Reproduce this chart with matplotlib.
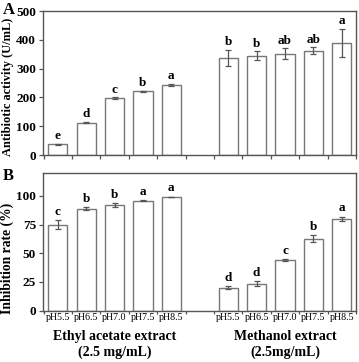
import matplotlib
matplotlib.use('Agg')
import matplotlib.pyplot as plt
import numpy as np

plt.rcParams['font.family'] = ['Liberation Serif', 'DejaVu Serif']

# Dados
ph_labels = ['pH5.5', 'pH6.5', 'pH7.0', 'pH7.5', 'pH8.5']
posicoes = [0, 1, 2, 3, 4, 6, 7, 8, 9, 10]

atividade = [37, 112, 198, 221, 244, 337, 345, 351, 362, 390]
atividade_err = [2, 2, 2, 2, 4, 27, 15, 19, 12, 48]
letras_a = ['e', 'd', 'c', 'b', 'a', 'b', 'b', 'ab', 'ab', 'a']

inibicao = [75, 89, 92, 96, 99, 20, 23.5, 44, 62.5, 80]
inibicao_err = [4, 1, 1.5, 0.4, 0.3, 1.2, 2, 1, 3, 1.8]
letras_b = ['c', 'b', 'b', 'a', 'a', 'd', 'd', 'c', 'b', 'a']

grupos = ['Ethyl acetate extract\n(2.5 mg/mL)', 'Methanol extract\n(2.5mg/mL)']

W, H = 359, 362
fig = plt.figure(figsize=(W / 100, H / 100), dpi=100)
axA = fig.add_axes([43 / W, 1 - 155 / H, 313 / W, 144 / H])
axB = fig.add_axes([43 / W, 1 - 310.5 / H, 313 / W, 137.5 / H])

spine_cor = '#555555'
barra_cor = '#777777'


def painel(ax, vals, errs, letras, ymax, yticks, ylabel, off, ysize, ypos):
    ax.bar(posicoes, vals, width=0.68, color='white', edgecolor=barra_cor, linewidth=1.0)
    ax.errorbar(posicoes, vals, yerr=errs, fmt='none', ecolor='#555555',
                elinewidth=0.9, capsize=2.5, capthick=0.9)
    for x, v, e, l in zip(posicoes, vals, errs, letras):
        ax.text(x, v + e + off, l, ha='center', va='bottom', fontsize=9.5, fontweight='bold')
    ax.set_xlim(-0.52, 10.48)
    ax.set_ylim(0, ymax)
    ax.set_yticks(yticks)
    ax.set_yticklabels([str(t) for t in yticks], fontsize=9.5, fontweight='bold')
    ax.set_ylabel(ylabel, fontsize=ysize, fontweight='bold')
    ax.yaxis.set_label_coords(-0.094, ypos)
    for s in ax.spines.values():
        s.set_color(spine_cor)
        s.set_linewidth(1.0)
    ax.tick_params(axis='both', colors=spine_cor, length=3, width=0.9, labelcolor='black', pad=2)


painel(axA, atividade, atividade_err, letras_a, 500, [0, 100, 200, 300, 400, 500],
       'Antibiotic activity (U/mL)', 6, 8.9, 0.47)
painel(axB, inibicao, inibicao_err, letras_b, 120, [0, 25, 50, 75, 100],
       'Inhibition rate (%)', 2, 9.8, 0.38)

ticks_x = np.arange(-0.5, 11, 1)
axA.set_xticks(ticks_x)
axA.set_xticklabels([])
axB.set_xticks(posicoes)
axB.set_xticklabels(ph_labels + ph_labels, fontsize=7.2)
axB.set_xticks(ticks_x, minor=True)
axB.tick_params(axis='x', which='major', length=0, pad=1.5)
axB.tick_params(axis='x', which='minor', length=2.5, width=0.9, colors=spine_cor)

axB.text(2, -0.14, grupos[0], transform=axB.get_xaxis_transform(), ha='center', va='top',
         fontsize=10, fontweight='bold', linespacing=1.3)
axB.text(8, -0.14, grupos[1], transform=axB.get_xaxis_transform(), ha='center', va='top',
         fontsize=10, fontweight='bold', linespacing=1.3)

fig.text(3 / W, 1 - 10 / H, 'A', fontsize=12, fontweight='bold', va='center', ha='left')
fig.text(3 / W, 1 - 176 / H, 'B', fontsize=12, fontweight='bold', va='center', ha='left')

fig.savefig('out.png', dpi=100)
